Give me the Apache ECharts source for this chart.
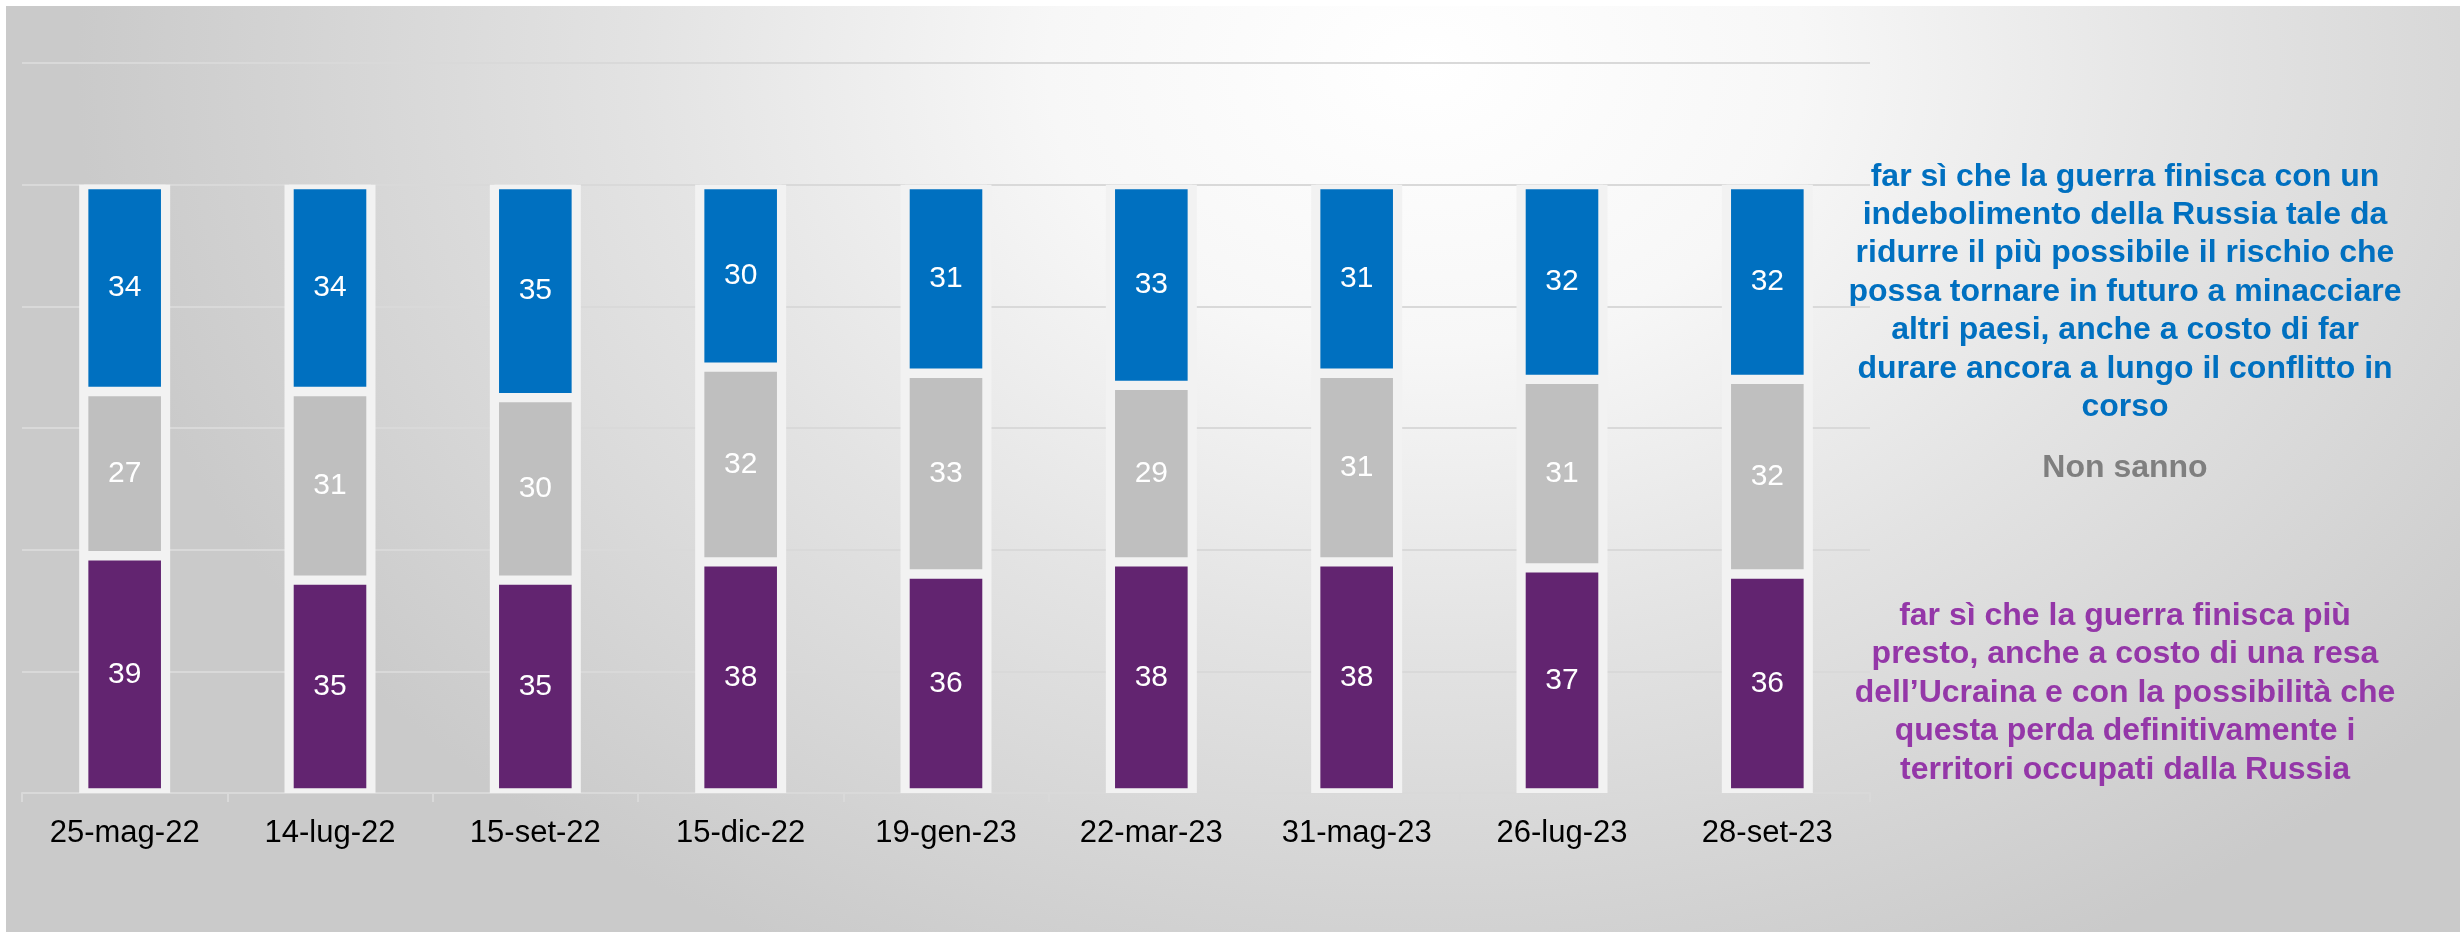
<!DOCTYPE html>
<html>
<head>
<meta charset="utf-8">
<script src="https://cdn.jsdelivr.net/npm/echarts@6/dist/echarts.min.js"></script>
<style>
  html, body { margin: 0; padding: 0; background: #ffffff; }
  #bg {
    position: absolute; left: 6px; top: 6px; width: 2454px; height: 926px;
    background: radial-gradient(ellipse 1350px 1000px at 1420px 60px, #ffffff 0%, #f7f7f7 28%, #e3e3e3 58%, #cacaca 100%);
  }
  #chart { position: absolute; left: 0; top: 0; width: 2460px; height: 932px; }
</style>
</head>
<body>
<div id="bg"></div>
<div id="chart"></div>
<script>
// ---- data ----
const categories = ['25-mag-22', '14-lug-22', '15-set-22', '15-dic-22', '19-gen-23', '22-mar-23', '31-mag-23', '26-lug-23', '28-set-23'];
const finePresto = [39, 35, 35, 38, 36, 38, 38, 37, 36];      // purple (bottom)
const nonSanno = [27, 31, 30, 32, 33, 29, 31, 31, 32];        // grey (middle)
const indebolimento = [34, 34, 35, 30, 31, 33, 31, 32, 32];   // blue (top)

const textBlue = 'far sì che la guerra finisca con un\nindebolimento della Russia tale da\nridurre il più possibile il rischio che\npossa tornare in futuro a minacciare\naltri paesi, anche a costo di far\ndurare ancora a lungo il conflitto in\ncorso';
const textGrey = 'Non sanno';
const textPurple = 'far sì che la guerra finisca più\npresto, anche a costo di una resa\ndell’Ucraina e con la possibilità che\nquesta perda definitivamente i\nterritori occupati dalla Russia';

const FONT = '"Liberation Sans", Arial, sans-serif';

// total of each stacked column (used for the light frame behind each column)
const totals = categories.map((c, i) => finePresto[i] + nonSanno[i] + indebolimento[i]);

const chart = echarts.init(document.getElementById('chart'), null, { renderer: 'canvas' });

function barSeries(name, data, color) {
  return {
    name: name,
    type: 'bar',
    stack: 'total',
    xAxisIndex: 0,
    data: data,
    barWidth: 82,
    z: 3,
    itemStyle: { color: color, borderColor: '#f2f2f2', borderWidth: 4.7 },
    label: {
      show: true,
      position: 'inside',
      color: '#ffffff',
      fontSize: 30,
      fontFamily: FONT
    },
    emphasis: { disabled: true }
  };
}

chart.setOption({
  animation: false,
  backgroundColor: 'transparent',
  grid: { left: 22, right: 590, top: 63, bottom: 139, containLabel: false },
  xAxis: [{
    type: 'category',
    data: categories,
    axisLine: { show: true, lineStyle: { color: '#d9d9d9', width: 2 } },
    axisTick: { show: true, interval: 0, length: 9, lineStyle: { color: '#d9d9d9', width: 2 } },
    axisLabel: { interval: 0, color: '#000000', fontSize: 31, fontFamily: FONT, margin: 25 },
    splitLine: { show: false }
  }, {
    type: 'category',
    data: categories,
    show: false
  }],
  yAxis: {
    type: 'value',
    min: 0, max: 120, interval: 20,
    axisLine: { show: false },
    axisTick: { show: false },
    axisLabel: { show: false },
    splitLine: { show: true, lineStyle: { color: '#d9d9d9', width: 2 } }
  },
  series: [
    {
      name: 'frame',
      type: 'bar',
      xAxisIndex: 1,
      data: totals,
      barWidth: 91,
      z: 2,
      itemStyle: { color: '#f2f2f2' },
      label: { show: false },
      emphasis: { disabled: true },
      silent: true
    },
    barSeries('finire presto', finePresto, '#622470'),
    barSeries('Non sanno', nonSanno, '#bfbfbf'),
    barSeries('indebolimento', indebolimento, '#0070c0')
  ],
  graphic: [
    {
      type: 'text', x: 2125, y: 292,
      style: {
        text: textBlue, fill: '#0070c0', font: 'bold 32px ' + FONT,
        textAlign: 'center', textVerticalAlign: 'middle', lineHeight: 38.4
      }
    },
    {
      type: 'text', x: 2125, y: 468,
      style: {
        text: textGrey, fill: '#7f7f7f', font: 'bold 32px ' + FONT,
        textAlign: 'center', textVerticalAlign: 'middle'
      }
    },
    {
      type: 'text', x: 2125, y: 693,
      style: {
        text: textPurple, fill: '#9437a8', font: 'bold 32px ' + FONT,
        textAlign: 'center', textVerticalAlign: 'middle', lineHeight: 38.4
      }
    }
  ]
});
</script>
</body>
</html>
